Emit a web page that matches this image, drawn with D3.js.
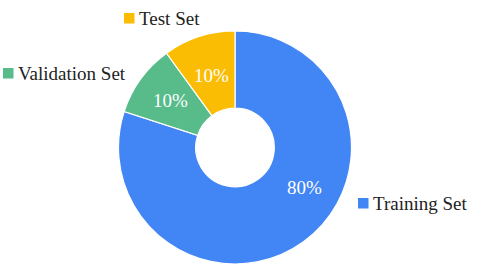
<!DOCTYPE html>
<html><head><meta charset="utf-8">
<script src="https://cdn.jsdelivr.net/npm/d3@7"></script>
</head><body style="margin:0;padding:0;background:#fff"><svg id="c" width="480" height="266" style="display:block"></svg>
<script>
const categories = ["Training Set", "Validation Set", "Test Set"];
const values = [80, 10, 10];
const colors = ["#4285F4", "#57BB8A", "#FBBC04"];
const labels = ["80%", "10%", "10%"];

const svg = d3.select("#c");
const cx = 235, cy = 147.5, rOuter = 116.5, rInner = 39.3;
const g = svg.append("g").attr("transform", `translate(${cx},${cy})`);
const pie = d3.pie().sort(null).value(d => d)(values);
const arc = d3.arc().innerRadius(rInner).outerRadius(rOuter);
g.selectAll("path").data(pie).join("path")
  .attr("d", arc).attr("fill", (d, i) => colors[i])
  .attr("stroke", "#fff").attr("stroke-width", 1.2);

const labelR = [80, 80, 76];
const labelAngleShift = [-0.42, 0, 0];
g.selectAll("text.lbl").data(pie).join("text").attr("class", "lbl")
  .each(function(d, i) {
    const a = (d.startAngle + d.endAngle) / 2 + labelAngleShift[i];
    d3.select(this).attr("x", Math.sin(a) * labelR[i]).attr("y", -Math.cos(a) * labelR[i]);
  })
  .attr("text-anchor", "middle").attr("dy", "0.35em")
  .attr("fill", "#fff").style("font", '19px "Times New Roman", Tinos, "Liberation Serif"')
  .text((d, i) => labels[i]);

const legendPos = [[358, 198], [3, 68], [124, 13]];
const lg = svg.selectAll("g.leg").data(categories).join("g").attr("class", "leg")
  .attr("transform", (d, i) => `translate(${legendPos[i][0]},${legendPos[i][1]})`);
lg.append("rect").attr("width", 10.5).attr("height", 10.5).attr("fill", (d, i) => colors[i]);
lg.append("text").attr("x", 15).attr("y", 12)
  .style("font", '19px "Times New Roman", Tinos, "Liberation Serif"').attr("fill", "#222").text(d => d);
</script></body></html>
